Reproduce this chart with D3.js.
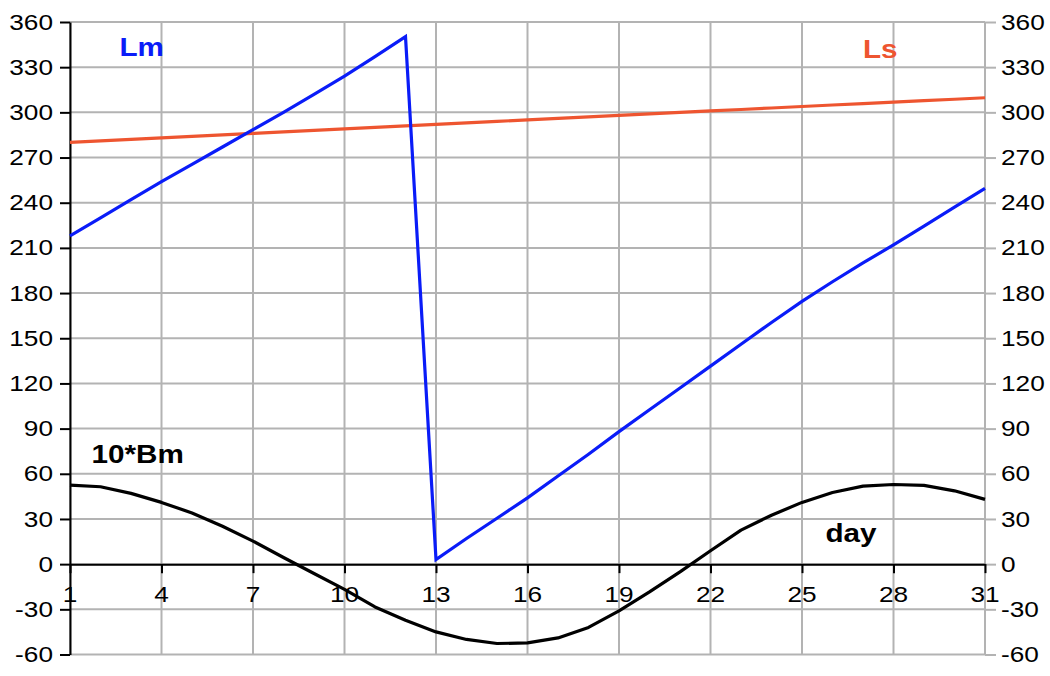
<!DOCTYPE html>
<html>
<head>
<meta charset="utf-8">
<script src="https://cdn.jsdelivr.net/npm/d3@7"></script>
<style>
  html, body { margin: 0; padding: 0; background: #fff; }
  svg { display: block; }
  text { font-family: "Liberation Sans", Arial, sans-serif; }
</style>
</head>
<body>
<svg id="chart" width="1050" height="676"></svg>
<script>
// ---- data ----
const days = [1,2,3,4,5,6,7,8,9,10,11,12,13,14,15,16,17,18,19,20,21,22,23,24,25,26,27,28,29,30,31];
const Lm = [218,230,242,254,265.5,277,288.5,300,312,324,337,350.3,3,17,30.5,44,58.5,73,88,102.5,117,131.5,146,160.5,174.5,187.5,200,212,224.5,237,249.5];
const Ls = [280.1,281.1,282.1,283.1,284.0,285.0,286.0,287.0,288.0,289.0,290.0,291.0,292.0,293.0,294.0,295.0,296.0,297.0,298.0,299.0,300.0,301.0,301.9,302.9,303.9,304.9,305.8,306.8,307.8,308.7,309.7];
const Bm10 = [52.5,51.4,47,41,34,25.2,15.3,4.4,-6.2,-16.8,-28.4,-37.2,-45,-50,-52.7,-52.3,-49,-42,-31,-18.4,-5.1,8.9,22.6,32.5,41,47.6,51.8,52.9,52.3,48.7,43];
const xTicks = [1,4,7,10,13,16,19,22,25,28,31];
const yTicks = [-60,-30,0,30,60,90,120,150,180,210,240,270,300,330,360];
const seriesLabels = ["Lm","Ls","10*Bm"];
const axisLabel = "day";

// ---- layout ----
const svg = d3.select("#chart");
const x = d3.scaleLinear().domain([1,31]).range([70,985]);
const y = d3.scaleLinear().domain([-60,360]).range([654.5,22]);
const GRID = "#b3b3b3";
const BLUE = "#0a1cf8";
const ORANGE = "#ee5530";
const NUM_SIZE = 21.5, NUM_SX = 1.22;
const BOLD_SIZE = 26.5, BOLD_SX = 1.12;

// gridlines
const g = svg.append("g");
g.selectAll("line.h").data(yTicks).join("line")
  .attr("x1", x(1)).attr("x2", x(31))
  .attr("y1", d => y(d)).attr("y2", d => y(d))
  .attr("stroke", GRID).attr("stroke-width", 2);
g.selectAll("line.v").data(xTicks).join("line")
  .attr("x1", d => x(d)).attr("x2", d => x(d))
  .attr("y1", y(360)).attr("y2", y(-60))
  .attr("stroke", GRID).attr("stroke-width", 2);

// right axis (gray ticks, no domain line)
const rightAxis = svg.append("g").attr("transform", `translate(${x(31)},0)`)
  .call(d3.axisRight(y).tickValues(yTicks).tickSize(11).tickFormat(""));
rightAxis.select(".domain").remove();
rightAxis.selectAll("line").attr("stroke", GRID).attr("stroke-width", 2);

// left axis (black)
const leftAxis = svg.append("g").attr("transform", `translate(${x(1)},0)`)
  .call(d3.axisLeft(y).tickValues(yTicks).tickSize(10).tickSizeOuter(0).tickFormat(""));
leftAxis.select(".domain").attr("stroke", "#000").attr("stroke-width", 2);
leftAxis.selectAll("line").attr("stroke", "#000").attr("stroke-width", 2);

// bottom axis at y=0
const bottomAxis = svg.append("g").attr("transform", `translate(0,${y(0)})`)
  .call(d3.axisBottom(x).tickValues(xTicks).tickSize(9).tickSizeOuter(0).tickFormat(""));
bottomAxis.select(".domain").attr("stroke", "#000").attr("stroke-width", 2);
bottomAxis.selectAll("line").attr("stroke", "#000").attr("stroke-width", 2);

// tick labels (text horizontally stretched like the reference)
function stretchedText(parent, tx, ty, str, size, sx, anchor, weight, fill) {
  parent.append("text")
    .attr("transform", `translate(${tx},${ty}) scale(${sx},1)`)
    .attr("x", 0).attr("y", 0)
    .attr("text-anchor", anchor)
    .attr("font-size", size)
    .attr("font-weight", weight)
    .attr("fill", fill)
    .text(str);
}
const labels = svg.append("g");
yTicks.forEach(v => {
  stretchedText(labels, 53, y(v) + 7.6, String(v), NUM_SIZE, NUM_SX, "end", "normal", "#000");
  stretchedText(labels, 1001, y(v) + 7.6, String(v), NUM_SIZE, NUM_SX, "start", "normal", "#000");
});
xTicks.forEach(v => {
  stretchedText(labels, x(v), 602.3, String(v), NUM_SIZE, NUM_SX, "middle", "normal", "#000");
});

// series lines
const line = d3.line().x((d,i) => x(days[i])).y(d => y(d));
svg.append("path").datum(Ls).attr("d", line)
  .attr("fill", "none").attr("stroke", ORANGE).attr("stroke-width", 3.2).attr("stroke-linejoin", "round");
svg.append("path").datum(Lm).attr("d", line)
  .attr("fill", "none").attr("stroke", BLUE).attr("stroke-width", 3.2).attr("stroke-linejoin", "miter");
svg.append("path").datum(Bm10).attr("d", line)
  .attr("fill", "none").attr("stroke", "#000").attr("stroke-width", 3.2).attr("stroke-linejoin", "round");

// series labels
stretchedText(svg, 119.5, 56, seriesLabels[0], BOLD_SIZE, BOLD_SX, "start", "bold", BLUE);
stretchedText(svg, 863, 58.3, seriesLabels[1], BOLD_SIZE, BOLD_SX, "start", "bold", ORANGE);
stretchedText(svg, 91.5, 462.7, seriesLabels[2], BOLD_SIZE, BOLD_SX, "start", "bold", "#000");
stretchedText(svg, 825.5, 542, axisLabel, BOLD_SIZE, BOLD_SX, "start", "bold", "#000");
</script>
</body>
</html>
